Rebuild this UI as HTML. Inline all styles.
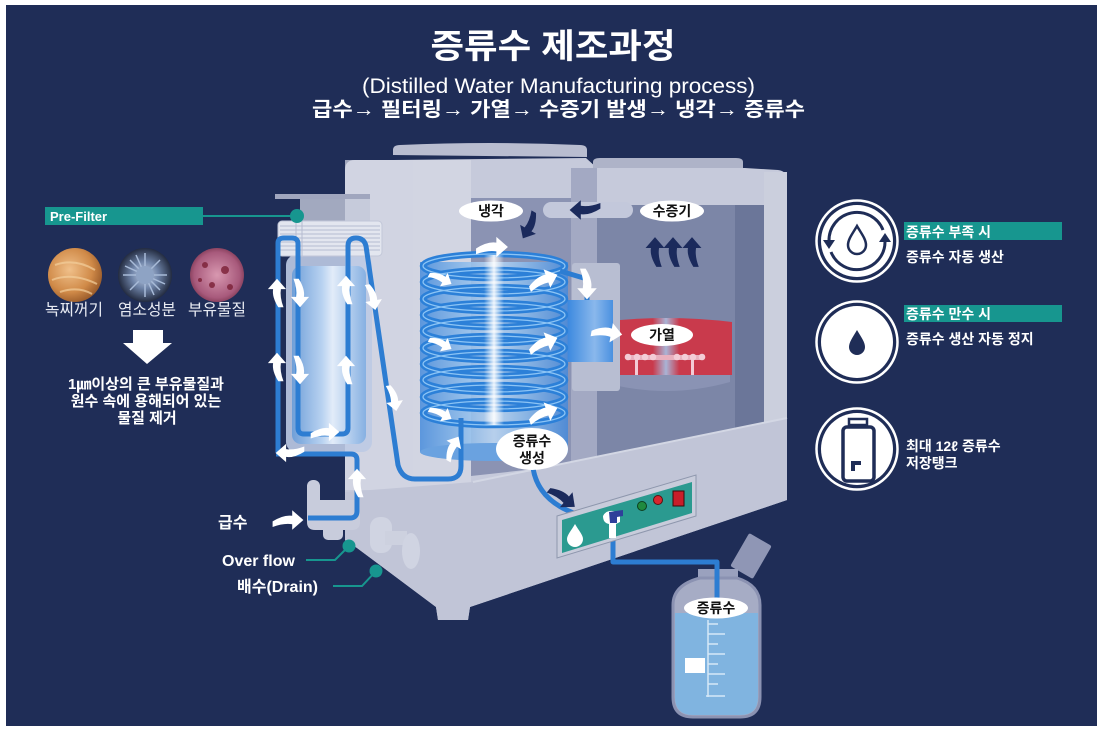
<!DOCTYPE html>
<html><head><meta charset="utf-8">
<style>
html,body{margin:0;padding:0;background:#fff;}
svg{display:block;}
text{font-family:"Liberation Sans","Noto Sans CJK KR",sans-serif;}
</style></head><body>
<svg width="1105" height="733" viewBox="0 0 1105 733" xmlns="http://www.w3.org/2000/svg">
<defs>
  <path id="wa" d="M-11,1 Q-3,-4 3,-3 L3,-7 L11,0 L3,7 L3,3 Q-3,2 -11,5 Z"/>
  <linearGradient id="filtG" x1="0" x2="1" y1="0" y2="0">
    <stop offset="0" stop-color="#6f9fd8"/><stop offset="0.4" stop-color="#b7d1f0"/>
    <stop offset="0.55" stop-color="#e2ecf9"/><stop offset="1" stop-color="#86b0e2"/>
  </linearGradient>
  <linearGradient id="coilG" x1="0" x2="1" y1="0" y2="0">
    <stop offset="0" stop-color="#4f90dc"/><stop offset="0.3" stop-color="#8dbbea"/>
    <stop offset="0.5" stop-color="#bcd6f2"/><stop offset="0.7" stop-color="#8dbbea"/>
    <stop offset="1" stop-color="#4a8ad8"/>
  </linearGradient>
  <linearGradient id="glow" x1="0" x2="1" y1="0" y2="0">
    <stop offset="0" stop-color="#fff" stop-opacity="0"/><stop offset="0.5" stop-color="#fff" stop-opacity="0.9"/>
    <stop offset="1" stop-color="#fff" stop-opacity="0"/>
  </linearGradient>
  <linearGradient id="boxG" x1="0" x2="1" y1="0" y2="0">
    <stop offset="0" stop-color="#3a88df"/><stop offset="0.6" stop-color="#8ab8ec"/><stop offset="1" stop-color="#4a90e0"/>
  </linearGradient>
  <linearGradient id="heatG" x1="0" x2="1" y1="0" y2="0">
    <stop offset="0" stop-color="#c93a4c"/><stop offset="0.4" stop-color="#c93a4c"/>
    <stop offset="0.5" stop-color="#a9b4d6"/><stop offset="0.6" stop-color="#c93a4c"/><stop offset="1" stop-color="#c93a4c"/>
  </linearGradient>
  <radialGradient id="rust" cx="0.4" cy="0.4" r="0.7">
    <stop offset="0" stop-color="#f0c08a"/><stop offset="0.6" stop-color="#d08a48"/><stop offset="1" stop-color="#8a4e22"/>
  </radialGradient>
  <radialGradient id="vir" cx="0.5" cy="0.5" r="0.55">
    <stop offset="0" stop-color="#c8d4e8"/><stop offset="0.45" stop-color="#6f84a8"/><stop offset="1" stop-color="#141a2c"/>
  </radialGradient>
  <radialGradient id="pur" cx="0.5" cy="0.5" r="0.6">
    <stop offset="0" stop-color="#d898b0"/><stop offset="0.7" stop-color="#a85a7c"/><stop offset="1" stop-color="#6a2840"/>
  </radialGradient>
</defs>

<!-- background -->
<rect x="0" y="0" width="1105" height="733" fill="#fff"/>
<rect x="6" y="5" width="1091" height="721" fill="#1f2d57"/>

<!-- titles -->
<text x="553" y="58" text-anchor="middle" font-size="34" font-weight="bold" fill="#fff" textLength="245" lengthAdjust="spacingAndGlyphs">증류수 제조과정</text>
<text x="362" y="93" font-size="21" fill="#fff" textLength="393" lengthAdjust="spacingAndGlyphs">(Distilled Water Manufacturing process)</text>
<text x="312" y="116" font-size="20" font-weight="bold" fill="#fff" textLength="493" lengthAdjust="spacingAndGlyphs">급수→ 필터링→ 가열→ 수증기 발생→ 냉각→ 증류수</text>

<!-- ============ MACHINE BODY ============ -->
<path d="M345,170 Q345,160 355,160 L393,160 L586,158 L597,168 L745,168 L778,170 Q787,171 787,180 L787,500 L470,607 L468,620 L438,620 L436,607 L357,548 L345,540 Z" fill="#c6cadb"/>
<path d="M393,155 L393,150 Q393,145 400,145 Q490,141 580,145 Q587,145 587,150 L587,157 Z" fill="#b9bdd0"/>
<path d="M593,168 L593,162 Q593,158 600,158 L736,158 Q743,158 743,162 L743,168 Z" fill="#aeb3c8"/>
<rect x="345" y="160" width="126" height="330" fill="#d6d9e5" opacity="0.7"/>
<rect x="413" y="160" width="58" height="320" fill="#d3d6e3" opacity="0.7"/>
<!-- chambers -->
<polygon points="471,198 571,198 571,465 471,476" fill="#8b93b3"/>
<rect x="571" y="168" width="26" height="296" fill="#a3a9c3"/>
<polygon points="597,205 764,205 764,427 597,456" fill="#7c86a7"/>
<polygon points="735,205 764,205 764,427 735,431" fill="#6b7699"/>
<rect x="764" y="172" width="23" height="255" fill="#cbcfdd"/>
<!-- base front -->
<polygon points="345,492 473,482 787,418 787,500 470,607 468,620 438,620 436,607 357,548 345,540" fill="#c1c5d7"/>
<line x1="473" y1="482" x2="787" y2="418" stroke="#d3d7e4" stroke-width="2"/>
<!-- vapor pipe -->
<rect x="543" y="202" width="90" height="16" rx="8" fill="#c3c8db"/>

<!-- heater -->
<path d="M602,368 L730,368 L730,382 Q666,400 602,382 Z" fill="#8a93b4"/>
<path d="M600,322 Q666,314 732,322 L732,375 L600,375 Z" fill="url(#heatG)"/>
<rect x="628" y="355" width="75" height="5" fill="#e8b0be"/>
<g fill="#f3ccd6">
<circle cx="628" cy="357" r="3.3"/><circle cx="637" cy="357" r="3.3"/><circle cx="645" cy="357" r="3.3"/><circle cx="653" cy="357" r="3.3"/>
<circle cx="677" cy="357" r="3.3"/><circle cx="685" cy="357" r="3.3"/><circle cx="693" cy="357" r="3.3"/><circle cx="702" cy="357" r="3.3"/>
<rect x="635" y="358" width="3" height="17"/><rect x="691" y="358" width="3" height="17"/>
</g>

<!-- connection box -->
<rect x="572" y="263" width="48" height="128" rx="3" fill="#b8bed2"/>
<rect x="567" y="300" width="46" height="62" fill="url(#boxG)"/>

<!-- coil -->
<rect x="420" y="262" width="148" height="190" fill="url(#coilG)" opacity="0.9"/>
<ellipse cx="494" cy="452" rx="74" ry="9" fill="#6aa2e0"/>
<g fill="none">
<g stroke="#2c80d8" stroke-width="6.5">
<ellipse cx="494" cy="266" rx="71" ry="12"/><ellipse cx="494" cy="282" rx="71" ry="12"/>
<ellipse cx="494" cy="299" rx="71" ry="12"/><ellipse cx="494" cy="315" rx="71" ry="12"/>
<ellipse cx="494" cy="331" rx="71" ry="12"/><ellipse cx="494" cy="348" rx="71" ry="12"/>
<ellipse cx="494" cy="364" rx="71" ry="12"/><ellipse cx="494" cy="380" rx="71" ry="12"/>
<ellipse cx="494" cy="397" rx="71" ry="12"/><ellipse cx="494" cy="413" rx="71" ry="12"/>
</g>
<g stroke="#8cc4f5" stroke-width="1.3">
<ellipse cx="494" cy="266" rx="71" ry="12"/><ellipse cx="494" cy="282" rx="71" ry="12"/>
<ellipse cx="494" cy="299" rx="71" ry="12"/><ellipse cx="494" cy="315" rx="71" ry="12"/>
<ellipse cx="494" cy="331" rx="71" ry="12"/><ellipse cx="494" cy="348" rx="71" ry="12"/>
<ellipse cx="494" cy="364" rx="71" ry="12"/><ellipse cx="494" cy="380" rx="71" ry="12"/>
<ellipse cx="494" cy="397" rx="71" ry="12"/><ellipse cx="494" cy="413" rx="71" ry="12"/>
</g>
</g>
<rect x="484" y="255" width="20" height="170" fill="url(#glow)"/>
<!-- coil to box pipe -->
<path d="M560,271 L587,279 L587,300" fill="none" stroke="#2d7dd2" stroke-width="5"/>

<!-- filter -->
<rect x="275" y="194" width="95" height="5" fill="#a0a6be"/>
<rect x="300" y="199" width="70" height="24" fill="#c3c8da" opacity="0.8"/>
<rect x="286" y="255" width="86" height="197" rx="10" fill="#bccae4" opacity="0.9"/>
<rect x="292" y="266" width="74" height="178" rx="9" fill="url(#filtG)"/>
<rect x="278" y="221" width="104" height="35" rx="4" fill="#e3e6ef" stroke="#c2c7d8"/>
<g stroke="#b6bcd0" stroke-width="1">
<line x1="280" y1="226" x2="380" y2="226"/><line x1="280" y1="230" x2="380" y2="230"/>
<line x1="280" y1="234" x2="380" y2="234"/><line x1="280" y1="238" x2="380" y2="238"/>
<line x1="280" y1="242" x2="380" y2="242"/><line x1="280" y1="246" x2="380" y2="246"/>
<line x1="280" y1="250" x2="380" y2="250"/><line x1="296" y1="221" x2="296" y2="256"/><line x1="302" y1="221" x2="302" y2="256"/>
</g>

<!-- faucet / overflow / drain parts -->
<g fill="#c8ccdc">
<rect x="307" y="480" width="13" height="40" rx="6"/>
<path d="M307,500 L360,500 L360,522 Q360,530 352,530 L315,530 Q307,530 307,522 Z"/>
<rect x="323" y="525" width="20" height="15" rx="5"/>
<rect x="370" y="517" width="22" height="36" rx="10" fill="#d0d4e2"/>
<rect x="385" y="531" width="22" height="14" fill="#cdd1df"/>
<ellipse cx="411" cy="551" rx="9" ry="18" fill="#d0d4e2"/>
</g>

<!-- pipes -->
<g fill="none" stroke="#2d7dd2" stroke-width="5" stroke-linejoin="round">
<path d="M278,453 L278,243 Q278,238 284,238 L292,238 Q298,238 298,244 L298,428 Q298,434 304,434 L342,434 Q348,434 348,428 L348,246 Q348,238 356,238 Q364,238 366,246 L398,465 Q402,479 415,479 L448,479 Q461,479 461,466 L461,418"/>
<path d="M276,454 L351,454 Q357,454 357,460 L357,511 Q357,518 350,518 L308,518"/>
<path d="M533,468 Q540,512 607,521"/>
<path d="M613,535 L613,562 L717,562 L717,604"/>
</g>

<!-- white arrows -->
<g fill="#fff">
<use href="#wa" transform="translate(277,293) rotate(-90) scale(1.3)"/>
<use href="#wa" transform="translate(277,367) rotate(-90) scale(1.3)"/>
<use href="#wa" transform="translate(300,293) rotate(90) scale(1.3)"/>
<use href="#wa" transform="translate(300,370) rotate(90) scale(1.3)"/>
<use href="#wa" transform="translate(346,290) rotate(-90) scale(1.3)"/>
<use href="#wa" transform="translate(346,370) rotate(-90) scale(1.3)"/>
<use href="#wa" transform="translate(373,297) rotate(80) scale(1.2)"/>
<use href="#wa" transform="translate(394,398) rotate(80) scale(1.2)"/>
<use href="#wa" transform="translate(325,432) scale(1.3)"/>
<use href="#wa" transform="translate(290,453) rotate(180) scale(1.3)"/>
<use href="#wa" transform="translate(357,483) rotate(-90) scale(1.3)"/>
<use href="#wa" transform="translate(288,520) scale(1.4)"/>
<use href="#wa" transform="translate(441,278) rotate(30) scale(1.1)"/>
<use href="#wa" transform="translate(441,343) rotate(30) scale(1.1)"/>
<use href="#wa" transform="translate(441,413) rotate(30) scale(1.1)"/>
<use href="#wa" transform="translate(543,280) rotate(-20) scale(1.4)"/>
<use href="#wa" transform="translate(543,343) rotate(-20) scale(1.4)"/>
<use href="#wa" transform="translate(543,413) rotate(-20) scale(1.4)"/>
<use href="#wa" transform="translate(492,247) scale(1.45)"/>
<use href="#wa" transform="translate(452,448) rotate(-60) scale(1.2)"/>
<use href="#wa" transform="translate(587,284) rotate(90) scale(1.4)"/>
<use href="#wa" transform="translate(607,332) rotate(10) scale(1.4)"/>
</g>
<!-- navy arrows -->
<g fill="#1b2a5c">
<use href="#wa" transform="translate(530,226) rotate(120) scale(1.3)"/>
<use href="#wa" transform="translate(585,210) rotate(180) scale(1.4)"/>
<use href="#wa" transform="translate(655,252) rotate(-90) scale(1.35)"/>
<use href="#wa" transform="translate(673,252) rotate(-90) scale(1.35)"/>
<use href="#wa" transform="translate(692,252) rotate(-90) scale(1.35)"/>
<use href="#wa" transform="translate(563,497) rotate(40) scale(1.4)"/>
</g>

<!-- bubble labels -->
<g fill="#fff">
<ellipse cx="491" cy="211" rx="32" ry="10.5"/>
<ellipse cx="672" cy="211" rx="32" ry="10.5"/>
<ellipse cx="662" cy="335" rx="31" ry="11"/>
<ellipse cx="532" cy="449" rx="36" ry="21"/>
</g>
<g fill="#111" font-weight="bold" text-anchor="middle">
<text x="491" y="216" font-size="14">냉각</text>
<text x="672" y="216" font-size="14">수증기</text>
<text x="662" y="340" font-size="14">가열</text>
<text x="532" y="446" font-size="14">증류수</text>
<text x="532" y="463" font-size="14">생성</text>
</g>

<!-- control panel -->
<polygon points="557,516 696,475 696,516 557,558" fill="#c8ccdb" stroke="#8e97ad" stroke-width="1"/>
<polygon points="562,520 692,482 692,513 562,553" fill="#2b9a90"/>
<path d="M575,524 C579,531 583,535 583,539 A8,8 0 0 1 567,539 C567,535 571,531 575,524 Z" fill="#fff"/>
<circle cx="642" cy="506" r="4.5" fill="#1f8a3e" stroke="#0d3f1e"/>
<circle cx="658" cy="500" r="4.5" fill="#d7262f" stroke="#5a1010"/>
<rect x="673" y="491" width="11" height="15" fill="#c81e2a" stroke="#3a0a0a"/>
<path d="M603,516 Q606,510 613,511 L620,513 L620,522 L616,524 L616,538 L609,538 L609,524 Q603,523 603,516 Z" fill="#fff"/>
<path d="M609,512 L623,510 L623,516 L617,517 L617,523 L610,523 Z" fill="#2f3f9a"/>

<!-- bottle -->
<g transform="translate(751,556) rotate(30)"><rect x="-13" y="-19" width="26" height="38" rx="2" fill="#8f96b5"/></g>
<g fill="none" stroke="#8e95b5" stroke-width="5">
<path d="M701,581 Q682,583 684,602"/><path d="M735,581 Q754,583 752,602"/>
</g>
<rect x="698" y="569" width="40" height="10" fill="#9aa1be"/>
<path d="M700,578 L737,578 Q760,585 760,605 L760,697 Q760,717 740,717 L693,717 Q673,717 673,697 L673,605 Q673,585 700,578 Z" fill="#a6acc5" stroke="#8b92b2" stroke-width="3"/>
<path d="M675,613 L758,613 L758,697 Q758,715 740,715 L693,715 Q675,715 675,697 Z" fill="#80b4e0"/>
<g stroke="#d6e8f7" stroke-width="1.5">
<line x1="708" y1="620" x2="708" y2="697"/>
<line x1="708" y1="624" x2="718" y2="624"/><line x1="708" y1="634" x2="725" y2="634"/>
<line x1="708" y1="644" x2="718" y2="644"/><line x1="708" y1="654" x2="725" y2="654"/>
<line x1="708" y1="664" x2="718" y2="664"/><line x1="708" y1="674" x2="725" y2="674"/>
<line x1="708" y1="684" x2="718" y2="684"/><line x1="706" y1="696" x2="725" y2="696"/>
</g>
<rect x="685" y="658" width="20" height="15" fill="#fff"/>
<path d="M717,562 L717,604" stroke="#2d7dd2" stroke-width="5"/>
<ellipse cx="716" cy="608" rx="32" ry="10.5" fill="#fff"/>
<text x="716" y="613" font-size="14" font-weight="bold" fill="#111" text-anchor="middle">증류수</text>

<!-- ============ LEFT PANEL ============ -->
<rect x="45" y="207" width="158" height="18" fill="#17968f"/>
<text x="50" y="221" font-size="13" font-weight="bold" fill="#fff">Pre-Filter</text>
<line x1="203" y1="216" x2="297" y2="216" stroke="#17968f" stroke-width="2"/>
<circle cx="297" cy="216" r="7" fill="#17968f"/>

<circle cx="75" cy="275" r="27" fill="url(#rust)"/>
<g stroke="#f3cf9c" stroke-width="2" fill="none" opacity="0.7">
<path d="M55,265 Q75,258 95,270"/><path d="M52,280 Q72,272 97,284"/><path d="M60,292 Q78,286 92,294"/>
</g>
<circle cx="145" cy="275" r="27" fill="url(#vir)"/>
<g stroke="#a8bbd8" stroke-width="1.5">
<line x1="145" y1="253" x2="145" y2="297"/><line x1="123" y1="275" x2="167" y2="275"/>
<line x1="130" y1="260" x2="160" y2="290"/><line x1="160" y1="260" x2="130" y2="290"/>
<line x1="136" y1="255" x2="154" y2="295"/><line x1="125" y1="266" x2="165" y2="284"/>
</g>
<circle cx="145" cy="275" r="9" fill="#8ea3c4"/>
<circle cx="217" cy="275" r="27" fill="url(#pur)"/>
<g fill="#7a1f35" opacity="0.8">
<circle cx="205" cy="265" r="3"/><circle cx="225" cy="270" r="4"/><circle cx="212" cy="285" r="3"/><circle cx="230" cy="287" r="3"/><circle cx="200" cy="280" r="2"/>
</g>

<g fill="#e8ebf3" font-size="16">
<text x="45" y="315" textLength="58" lengthAdjust="spacingAndGlyphs">녹찌꺼기</text>
<text x="118" y="315" textLength="58" lengthAdjust="spacingAndGlyphs">염소성분</text>
<text x="188" y="315" textLength="58" lengthAdjust="spacingAndGlyphs">부유물질</text>
</g>
<polygon points="133,330 163,330 163,343 172,343 147,364 123,343 133,343" fill="#fff"/>
<g fill="#fff" font-size="15" font-weight="bold" text-anchor="middle">
<text x="146" y="389">1㎛이상의 큰 부유물질과</text>
<text x="146" y="406">원수 속에 용해되어 있는</text>
<text x="147" y="423">물질 제거</text>
</g>

<!-- bottom-left labels -->
<text x="218" y="528" font-size="16" font-weight="bold" fill="#fff">급수</text>
<text x="222" y="566" font-size="16" font-weight="bold" fill="#fff">Over flow</text>
<text x="237" y="592" font-size="16" font-weight="bold" fill="#fff">배수(Drain)</text>
<g fill="none" stroke="#17968f" stroke-width="2">
<path d="M306,560 L335,560 L349,546"/>
<path d="M333,586 L362,586 L376,571"/>
</g>
<circle cx="349" cy="546" r="6.5" fill="#17968f"/>
<circle cx="376" cy="571" r="6.5" fill="#17968f"/>

<!-- ============ RIGHT PANEL ============ -->
<g transform="translate(857,241)">
<circle r="40.5" fill="none" stroke="#fff" stroke-width="2.5"/>
<circle r="36" fill="#fff"/>
<g fill="none" stroke="#1f2d57" stroke-width="3">
<path d="M26,-11 A28,28 0 0 0 -28,0"/>
<path d="M-26,11 A28,28 0 0 0 28,0"/>
<path d="M0,-15 C4,-8 9,-2 9,4 A9,9 0 0 1 -9,4 C-9,-2 -4,-8 0,-15 Z" stroke-width="2.5"/>
</g>
<polygon points="-34,-1 -22,-1 -28,8" fill="#1f2d57"/>
<polygon points="22,1 34,1 28,-8" fill="#1f2d57"/>
</g>
<g transform="translate(857,342)">
<circle r="40.5" fill="none" stroke="#fff" stroke-width="2.5"/>
<circle r="36" fill="#fff"/>
<path d="M0,-12 C4,-5 8,0 8,5 A8,8 0 0 1 -8,5 C-8,0 -4,-5 0,-12 Z" fill="#1f2d57"/>
</g>
<g transform="translate(857,449)">
<circle r="40.5" fill="none" stroke="#fff" stroke-width="2.5"/>
<circle r="36" fill="#fff"/>
<rect x="-8" y="-30" width="18" height="6" fill="none" stroke="#1f2d57" stroke-width="2.5"/>
<rect x="-14" y="-22" width="31" height="54" rx="4" fill="none" stroke="#1f2d57" stroke-width="3.5"/>
<path d="M-6,12 L4,12 L4,16 L-2,16 L-2,22 L-6,22 Z" fill="#1f2d57"/>
</g>

<rect x="904" y="222" width="158" height="18" fill="#17968f"/>
<rect x="904" y="305" width="158" height="17" fill="#17968f"/>
<g fill="#fff" font-size="14" font-weight="bold">
<text x="906" y="237">증류수 부족 시</text>
<text x="906" y="262">증류수 자동 생산</text>
<text x="906" y="319">증류수 만수 시</text>
<text x="906" y="344">증류수 생산 자동 정지</text>
<text x="906" y="451">최대 12ℓ 증류수</text>
<text x="906" y="468">저장탱크</text>
</g>
</svg>
</body></html>
